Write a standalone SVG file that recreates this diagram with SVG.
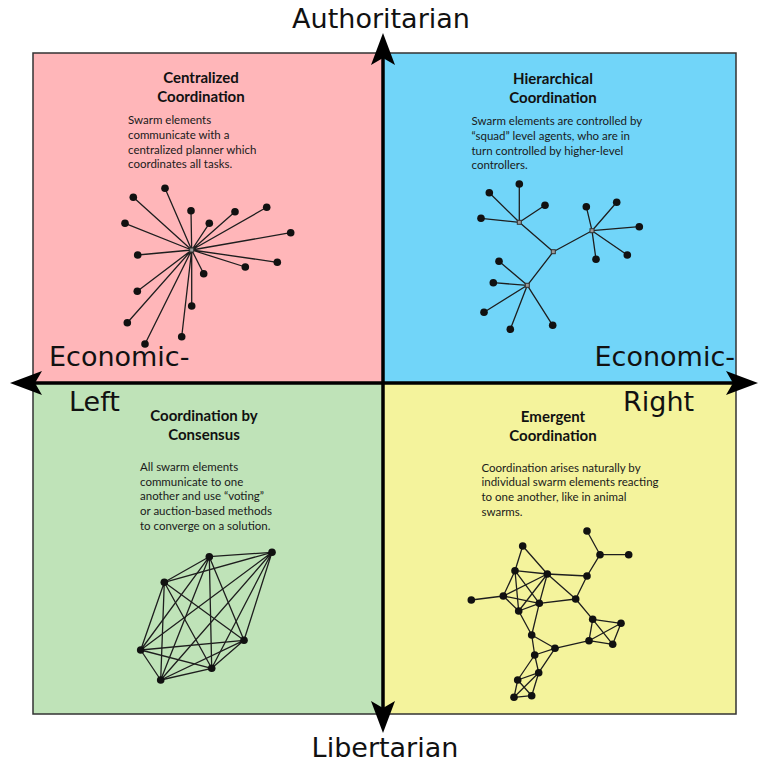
<svg xmlns="http://www.w3.org/2000/svg" width="768" height="768" viewBox="0 0 768 768">
<style>
.axis{font-family:"DejaVu Sans","Liberation Sans",sans-serif;font-size:27px;fill:#111}
.t{font-family:Lato,"Open Sans",sans-serif;font-weight:bold;font-size:15px;fill:#111;text-anchor:middle}
.b{font-family:Lato,"Open Sans",sans-serif;font-size:11.5px;fill:#1a1a1a}
.e{stroke:#1e1e1e;stroke-width:1.3;fill:none}
.n circle{fill:#111;r:3.8px}
.hub{fill:#9a9a9a;stroke:#333;stroke-width:1}
.ax{stroke:#000;stroke-width:3.5;fill:none}
</style>
<defs>
<marker id="arr" markerUnits="userSpaceOnUse" viewBox="0 0 32 24" markerWidth="32" markerHeight="24" refX="7" refY="12" orient="auto-start-reverse">
<path d="M0,0 L32,12 L0,24 L7,12 Z" fill="#000"/>
</marker>
</defs>
<rect width="768" height="768" fill="#fff"/>
<g id="quadrants">
<rect x="33" y="53" width="350" height="330" fill="#FFB6B9"/>
<rect x="383" y="53" width="353" height="330" fill="#71D5F9"/>
<rect x="33" y="383" width="350" height="331" fill="#BFE3B8"/>
<rect x="383" y="383" width="353" height="331" fill="#F4F39C"/>
<rect x="33" y="53" width="703" height="661" fill="none" stroke="#333" stroke-width="1.5"/>
</g>
<g id="axes">
<line class="ax" x1="35" y1="383" x2="733" y2="383" marker-start="url(#arr)" marker-end="url(#arr)"/>
<line class="ax" x1="383" y1="58" x2="383" y2="708" marker-start="url(#arr)" marker-end="url(#arr)"/>
</g>
<g id="axis-labels">
<text class="axis" x="381" y="28" text-anchor="middle">Authoritarian</text>
<text class="axis" x="385" y="757" text-anchor="middle">Libertarian</text>
<text class="axis" x="49" y="366">Economic-</text>
<text class="axis" x="69" y="411">Left</text>
<text class="axis" x="735" y="366" text-anchor="end">Economic-</text>
<text class="axis" x="623" y="411">Right</text>
</g>
<g id="centralized">
<text class="t" x="201" y="83">Centralized</text>
<text class="t" x="201" y="102">Coordination</text>
<text class="b" x="128" y="124">Swarm elements</text>
<text class="b" x="128" y="139">communicate with a</text>
<text class="b" x="128" y="153.5">centralized planner which</text>
<text class="b" x="128" y="168">coordinates all tasks.</text>
<g class="e">
<path d="M191.7,250L165,188.3M191.7,250L133.3,197.3M191.7,250L191,210.7M191.7,250L235,211.7M191.7,250L266.7,207.3M191.7,250L209.3,223.3M191.7,250L125,223.3M191.7,250L290.7,232.7M191.7,250L137.7,255M191.7,250L277.3,262.3M191.7,250L245.3,267M191.7,250L203.7,273.7M191.7,250L137.3,291.3M191.7,250L191.7,306M191.7,250L127.3,322.7M191.7,250L181.7,336.7M191.7,250L145,344"/>
</g>
<g class="n">
<circle cx="165" cy="188.3" r="3.8"/><circle cx="133.3" cy="197.3" r="3.8"/><circle cx="191" cy="210.7" r="3.8"/><circle cx="235" cy="211.7" r="3.8"/><circle cx="266.7" cy="207.3" r="3.8"/><circle cx="209.3" cy="223.3" r="3.8"/><circle cx="125" cy="223.3" r="3.8"/><circle cx="290.7" cy="232.7" r="3.8"/><circle cx="137.7" cy="255" r="3.8"/><circle cx="277.3" cy="262.3" r="3.8"/><circle cx="245.3" cy="267" r="3.8"/><circle cx="203.7" cy="273.7" r="3.8"/><circle cx="137.3" cy="291.3" r="3.8"/><circle cx="191.7" cy="306" r="3.8"/><circle cx="127.3" cy="322.7" r="3.8"/><circle cx="181.7" cy="336.7" r="3.8"/><circle cx="145" cy="344" r="3.8"/>
</g>
<rect class="hub" x="189.7" y="248" width="4" height="4"/>
</g>
<g id="hierarchical">
<text class="t" x="553" y="84">Hierarchical</text>
<text class="t" x="553" y="103">Coordination</text>
<text class="b" x="471.5" y="125">Swarm elements are controlled by</text>
<text class="b" x="471.5" y="140">“squad” level agents, who are in</text>
<text class="b" x="471.5" y="154.5">turn controlled by higher-level</text>
<text class="b" x="471.5" y="169">controllers.</text>
<g class="e">
<path d="M553.3,251.7L519.3,222.3M553.3,251.7L592,230.7M553.3,251.7L527.3,285.3"/>
<path d="M519.3,222.3L519.3,184M519.3,222.3L489.3,192.7M519.3,222.3L545,205.3M519.3,222.3L481,218.3"/>
<path d="M592,230.7L586.3,206.7M592,230.7L616.7,202.3M592,230.7L639.3,226.7M592,230.7L627.3,255M592,230.7L596,259.3"/>
<path d="M527.3,285.3L499,261.3M527.3,285.3L493.3,282.7M527.3,285.3L484,312.3M527.3,285.3L510.3,329.3M527.3,285.3L552.7,325.3"/>
</g>
<g class="n">
<circle cx="519.3" cy="184" r="3.8"/><circle cx="489.3" cy="192.7" r="3.8"/><circle cx="545" cy="205.3" r="3.8"/><circle cx="481" cy="218.3" r="3.8"/>
<circle cx="586.3" cy="206.7" r="3.8"/><circle cx="616.7" cy="202.3" r="3.8"/><circle cx="639.3" cy="226.7" r="3.8"/><circle cx="627.3" cy="255" r="3.8"/><circle cx="596" cy="259.3" r="3.8"/>
<circle cx="499" cy="261.3" r="3.8"/><circle cx="493.3" cy="282.7" r="3.8"/><circle cx="484" cy="312.3" r="3.8"/><circle cx="510.3" cy="329.3" r="3.8"/><circle cx="552.7" cy="325.3" r="3.8"/>
</g>
<rect class="hub" x="517.3" y="220.3" width="4" height="4"/>
<rect class="hub" x="551.3" y="249.7" width="4" height="4"/>
<rect class="hub" x="590" y="228.7" width="4" height="4"/>
<rect class="hub" x="525.3" y="283.3" width="4" height="4"/>
</g>
<g id="consensus">
<text class="t" x="204" y="421">Coordination by</text>
<text class="t" x="204" y="440">Consensus</text>
<text class="b" x="140" y="470.5">All swarm elements</text>
<text class="b" x="140" y="485.5">communicate to one</text>
<text class="b" x="140" y="500.2">another and use “voting”</text>
<text class="b" x="140" y="515">or auction-based methods</text>
<text class="b" x="140" y="529.7">to converge on a solution.</text>
<g class="e">
<path d="M209.3,556.7L272,552.3M209.3,556.7L164.3,582.3M209.3,556.7L244,640.3M209.3,556.7L140.7,650M209.3,556.7L211.7,668.3M209.3,556.7L160.7,680"/>
<path d="M272,552.3L164.3,582.3M272,552.3L244,640.3M272,552.3L140.7,650M272,552.3L211.7,668.3M272,552.3L160.7,680"/>
<path d="M164.3,582.3L244,640.3M164.3,582.3L140.7,650M164.3,582.3L211.7,668.3M164.3,582.3L160.7,680"/>
<path d="M244,640.3L140.7,650M244,640.3L211.7,668.3M244,640.3L160.7,680"/>
<path d="M140.7,650L211.7,668.3M140.7,650L160.7,680M211.7,668.3L160.7,680"/>
</g>
<g class="n">
<circle cx="209.3" cy="556.7" r="3.9"/><circle cx="272" cy="552.3" r="3.9"/><circle cx="164.3" cy="582.3" r="3.9"/><circle cx="244" cy="640.3" r="3.9"/><circle cx="140.7" cy="650" r="3.9"/><circle cx="211.7" cy="668.3" r="3.9"/><circle cx="160.7" cy="680" r="3.9"/>
</g>
</g>
<g id="emergent">
<text class="t" x="553" y="422">Emergent</text>
<text class="t" x="553" y="441">Coordination</text>
<text class="b" x="481.5" y="471.7">Coordination arises naturally by</text>
<text class="b" x="481.5" y="486.4">individual swarm elements reacting</text>
<text class="b" x="481.5" y="501.1">to one another, like in animal</text>
<text class="b" x="481.5" y="515.8">swarms.</text>
<g class="e">
<path d="M587,531L600,554.7L628.7,554.7M600,554.7L587,576"/>
<path d="M522.7,546L515,570.7M522.7,546L547.3,574M515,570.7L547.3,574M515,570.7L503.3,596M515,570.7L518.7,611M515,570.7L539.3,603.3"/>
<path d="M547.3,574L587,576M547.3,574L575.7,599M547.3,574L503.3,596M547.3,574L518.7,611M547.3,574L539.3,603.3M587,576L575.7,599"/>
<path d="M471.3,600L503.3,596M503.3,596L539.3,603.3M503.3,596L518.7,611M539.3,603.3L518.7,611M539.3,603.3L575.7,599M539.3,603.3L531.7,635M518.7,611L531.7,635"/>
<path d="M575.7,599L592.7,619.3M592.7,619.3L621,623.3M592.7,619.3L589,640.7M592.7,619.3L612.7,644.3M621,623.3L589,640.7M621,623.3L612.7,644.3M589,640.7L612.7,644.3M589,640.7L555,648.3"/>
<path d="M531.7,635L555,648.3M531.7,635L534.7,655M555,648.3L534.7,655M555,648.3L538.7,672.7M534.7,655L538.7,672.7M534.7,655L517.7,680"/>
<path d="M538.7,672.7L517.7,680M538.7,672.7L531.7,695.7M538.7,672.7L514,697.3M517.7,680L531.7,695.7M517.7,680L514,697.3M531.7,695.7L514,697.3"/>
</g>
<g class="n">
<circle cx="587" cy="531" r="3.8"/><circle cx="600" cy="554.7" r="3.8"/><circle cx="628.7" cy="554.7" r="3.8"/><circle cx="522.7" cy="546" r="3.8"/><circle cx="515" cy="570.7" r="3.8"/><circle cx="547.3" cy="574" r="3.8"/><circle cx="587" cy="576" r="3.8"/><circle cx="471.3" cy="600" r="3.8"/><circle cx="503.3" cy="596" r="3.8"/><circle cx="539.3" cy="603.3" r="3.8"/><circle cx="518.7" cy="611" r="3.8"/><circle cx="575.7" cy="599" r="3.8"/><circle cx="592.7" cy="619.3" r="3.8"/><circle cx="621" cy="623.3" r="3.8"/><circle cx="589" cy="640.7" r="3.8"/><circle cx="612.7" cy="644.3" r="3.8"/><circle cx="531.7" cy="635" r="3.8"/><circle cx="555" cy="648.3" r="3.8"/><circle cx="534.7" cy="655" r="3.8"/><circle cx="538.7" cy="672.7" r="3.8"/><circle cx="517.7" cy="680" r="3.8"/><circle cx="531.7" cy="695.7" r="3.8"/><circle cx="514" cy="697.3" r="3.8"/>
</g>
</g>
</svg>
